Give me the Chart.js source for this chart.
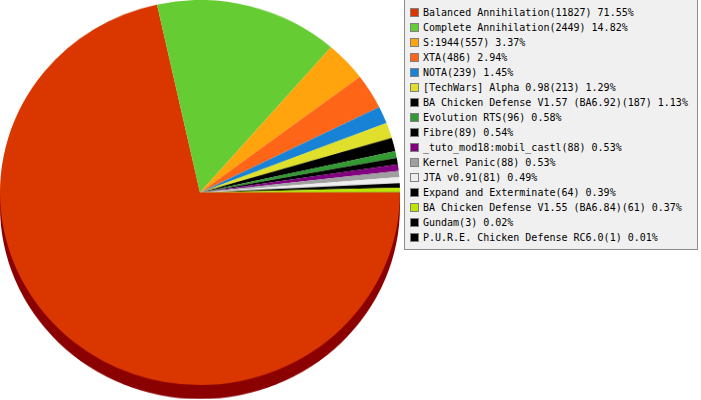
<!DOCTYPE html>
<html>
<head>
<meta charset="utf-8">
<script src="https://cdn.jsdelivr.net/npm/chart.js@4/dist/chart.umd.min.js"></script>
<style>
  html, body { margin: 0; padding: 0; background: #fff; }
  #wrap { position: relative; width: 701px; height: 400px; overflow: hidden; }
  #pieBox { position: absolute; left: 0; top: 0; width: 400px; height: 415px; transform: scaleY(0.9625); transform-origin: 0 0; }
  #legend { position: absolute; left: 404px; top: -1px; width: 294px; height: 251px; box-sizing: border-box;
            border: 1px solid #8c8c8c; background: #f0f0f0; font: 10px "DejaVu Sans Mono", monospace; color: #000; }
  .row { position: absolute; left: 5px; height: 15px; line-height: 15px; white-space: nowrap; }
  .sw { position: absolute; left: 0; top: 3px; width: 7px; height: 7px; border: 1px solid #808080; }
  .txt { position: absolute; left: 13px; top: 0; }
</style>
</head>
<body>
<div id="wrap">
  <div id="pieBox"><canvas id="pie" width="400" height="415"></canvas></div>
  <div id="legend"></div>
</div>
<script>
// mods and how many games were played with each
const mods = [
  'Balanced Annihilation',
  'Complete Annihilation',
  'S:1944',
  'XTA',
  'NOTA',
  '[TechWars] Alpha 0.98',
  'BA Chicken Defense V1.57 (BA6.92)',
  'Evolution RTS',
  'Fibre',
  '_tuto_mod18:mobil_castl',
  'Kernel Panic',
  'JTA v0.91',
  'Expand and Exterminate',
  'BA Chicken Defense V1.55 (BA6.84)',
  'Gundam',
  'P.U.R.E. Chicken Defense RC6.0'
];
const games = [11827, 2449, 557, 486, 239, 213, 187, 96, 89, 88, 88, 81, 64, 61, 3, 1];
const colors = [
  '#d93600', '#66cc33', '#ffa40c', '#ff6516', '#1882d6', '#e0e02c', '#000000', '#339933',
  '#000000', '#800080', '#a0a0a0', '#eeeeee', '#000000', '#bde600', '#000000', '#000000'
];

const total = games.reduce((a, b) => a + b, 0);

// fake 3d side under the pie
const depthPlugin = {
  id: 'depth',
  beforeDatasetsDraw(chart) {
    const arc = chart.getDatasetMeta(0).data[0];
    if (!arc) return;
    const ctx = chart.ctx;
    const d = 14.5;
    ctx.save();
    ctx.fillStyle = '#8b0000';
    ctx.beginPath();
    ctx.arc(arc.x, arc.y + d, arc.outerRadius, 0, Math.PI);
    ctx.lineTo(arc.x - arc.outerRadius, arc.y);
    ctx.lineTo(arc.x + arc.outerRadius, arc.y);
    ctx.closePath();
    ctx.fill();
    ctx.restore();
  }
};

new Chart(document.getElementById('pie'), {
  type: 'pie',
  data: {
    labels: mods,
    datasets: [{
      data: games,
      backgroundColor: colors,
      borderWidth: 0
    }]
  },
  options: {
    responsive: false,
    devicePixelRatio: 1,
    animation: false,
    rotation: 90,
    layout: { padding: { top: 0, left: 0, right: 0, bottom: 15 } },
    plugins: {
      legend: { display: false },
      tooltip: { enabled: false }
    }
  },
  plugins: [depthPlugin]
});

// legend box
const legend = document.getElementById('legend');
mods.forEach((m, i) => {
  const row = document.createElement('div');
  row.className = 'row';
  row.style.top = (5 + 15 * i) + 'px';
  const sw = document.createElement('span');
  sw.className = 'sw';
  sw.style.background = colors[i];
  const txt = document.createElement('span');
  txt.className = 'txt';
  txt.textContent = m + '(' + games[i] + ') ' + (games[i] / total * 100).toFixed(2) + '%';
  row.appendChild(sw);
  row.appendChild(txt);
  legend.appendChild(row);
});
</script>
</body>
</html>
